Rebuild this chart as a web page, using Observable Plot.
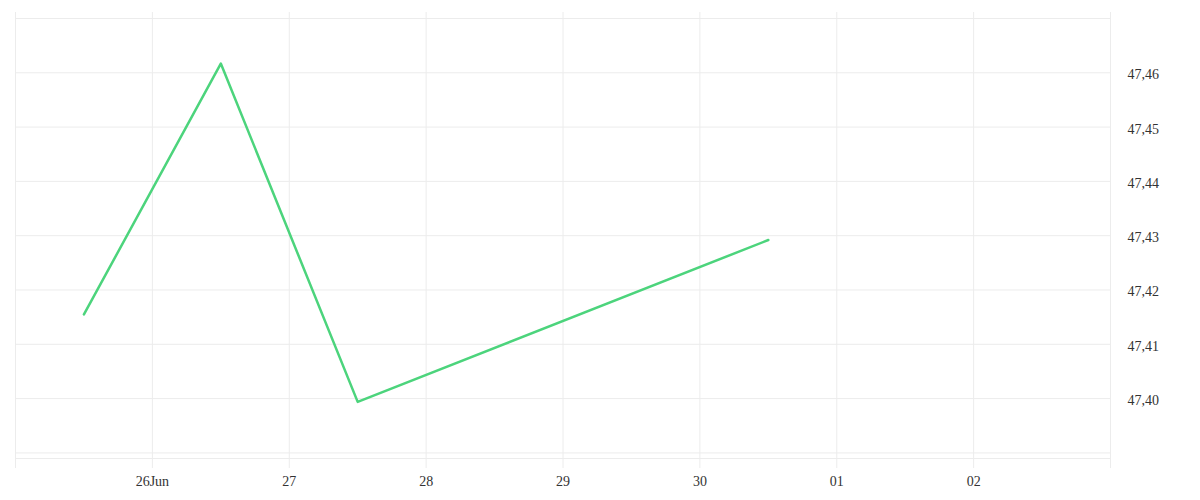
<!DOCTYPE html>
<html>
<head>
<meta charset="utf-8">
<script src="https://cdn.jsdelivr.net/npm/d3@7"></script>
<script src="https://cdn.jsdelivr.net/npm/@observablehq/plot@0.6"></script>
<style>
  html, body { margin: 0; padding: 0; background: #fff; }
</style>
</head>
<body>
<div id="chart"></div>
<script>
// Data
const dates = ["2024-06-25T12:00", "2024-06-26T12:00", "2024-06-27T12:00", "2024-06-30T12:00"];
const values = [47.4155, 47.4617, 47.3994, 47.4292];
const yTicks = [47.40, 47.41, 47.42, 47.43, 47.44, 47.45, 47.46];
const yGrid = [47.39, 47.40, 47.41, 47.42, 47.43, 47.44, 47.45, 47.46, 47.47];
const dayGrid = ["2024-06-25", "2024-06-26", "2024-06-27", "2024-06-28", "2024-06-29", "2024-06-30", "2024-07-01", "2024-07-02", "2024-07-03"];
const xTicks = ["2024-06-26", "2024-06-27", "2024-06-28", "2024-06-29", "2024-06-30", "2024-07-01", "2024-07-02"];
const xTickLabels = ["26Jun", "27", "28", "29", "30", "01", "02"];

const parse = s => new Date(s + (s.length === 10 ? "T00:00" : ""));
const data = dates.map((d, i) => ({date: parse(d), value: values[i]}));
const dayDates = dayGrid.map(parse);
const xTickDates = xTicks.map(parse);
const labelMap = new Map(xTickDates.map((d, i) => [+d, xTickLabels[i]]));

const yMin = 47.38897, yMax = 47.4711;

const chart = Plot.plot({
  width: 1200,
  height: 500,
  marginLeft: 15,
  marginRight: 90,
  marginTop: 12,
  marginBottom: 42,
  style: {fontSize: "14px", fontFamily: "'Liberation Serif', serif", color: "#333", background: "#fff"},
  x: {type: "time", domain: [parse("2024-06-25"), parse("2024-07-03")]},
  y: {domain: [yMin, yMax]},
  marks: [
    Plot.ruleX(dayDates, {stroke: "#ececec", strokeWidth: 1, insetBottom: -10}),
    Plot.ruleY(yGrid, {stroke: "#ececec", strokeWidth: 1}),
    Plot.ruleY([yMin], {stroke: "#ececec", strokeWidth: 1}),
    Plot.line(data, {x: "date", y: "value", stroke: "#4cd47c", strokeWidth: 2.5}),
    Plot.axisY({anchor: "right", ticks: yTicks, tickSize: 0, tickPadding: 17, dy: 2,
      tickFormat: d => d.toFixed(2).replace(".", ","), label: null, fill: "#333"}),
    Plot.axisX({ticks: xTickDates, tickSize: 0, tickPadding: 18,
      tickFormat: d => labelMap.get(+d), label: null, fill: "#333"})
  ]
});
document.getElementById("chart").appendChild(chart);
</script>
</body>
</html>
